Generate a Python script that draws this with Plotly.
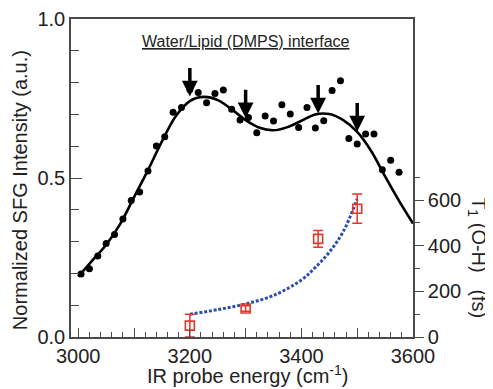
import plotly.graph_objects as go

# ---- data ----
sfg_x = [3005, 3020, 3035, 3050, 3065, 3080, 3095, 3110, 3125, 3140,
         3155, 3170, 3185, 3200, 3215, 3230, 3245, 3260, 3275, 3290,
         3305, 3320, 3335, 3350, 3365, 3380, 3395, 3410, 3425, 3440,
         3455, 3470, 3485, 3500, 3515, 3530, 3545, 3560, 3575]
sfg_y = [0.198, 0.215, 0.255, 0.294, 0.322, 0.371, 0.429, 0.456, 0.522, 0.601,
         0.630, 0.707, 0.722, 0.778, 0.769, 0.737, 0.766, 0.777, 0.716, 0.682,
         0.690, 0.642, 0.695, 0.679, 0.730, 0.701, 0.659, 0.722, 0.657, 0.680,
         0.775, 0.806, 0.624, 0.607, 0.638, 0.638, 0.526, 0.556, 0.518]

fit_x = [3000, 3025, 3050, 3075, 3100, 3125, 3150, 3175, 3200, 3225,
         3250, 3275, 3300, 3325, 3350, 3375, 3400, 3425, 3450, 3475,
         3500, 3525, 3550, 3575, 3600]
fit_y = [0.190, 0.240, 0.290, 0.355, 0.440, 0.525, 0.615, 0.695, 0.742, 0.755,
         0.745, 0.716, 0.682, 0.658, 0.650, 0.660, 0.680, 0.700, 0.701, 0.682,
         0.645, 0.585, 0.505, 0.428, 0.357]

t1_x = [3200, 3300, 3430, 3500]
t1_y = [50, 125, 430, 562]
t1_err = [50, 12, 37, 64]

t1fit_x = [3200, 3250, 3300, 3350, 3400, 3425, 3450, 3475, 3500]
t1fit_y = [100, 120, 145, 182, 250, 305, 372, 462, 605]

arrow_x = [3200, 3300, 3430, 3500]
arrow_y = [0.756, 0.688, 0.703, 0.646]

x_ticks = [3000, 3100, 3200, 3300, 3400, 3500, 3600]
x_ticktext = ["3000", "", "3200", "", "3400", "", "3600"]
x_minor = [3020, 3040, 3060, 3080, 3120, 3140, 3160, 3180, 3220, 3240, 3260, 3280,
           3320, 3340, 3360, 3380, 3420, 3440, 3460, 3480, 3520, 3540, 3560, 3580]
y_ticks = [0.0, 0.5, 1.0]
y_ticktext = ["0.0", "0.5", "1.0"]
y_minor = [0.1, 0.2, 0.3, 0.4, 0.6, 0.7, 0.8, 0.9]
y2_ticks = [0, 200, 400, 600]
y2_minor = [100, 300, 500, 700]

FONT = "Arial, 'Liberation Sans', Helvetica, sans-serif"
AX = "#4a4a4a"
RED = "#e8352b"
BLUE = "#2f4fb0"
TXT = "#222222"

fig = go.Figure()

fig.add_trace(go.Scatter(x=fit_x, y=fit_y, mode="lines",
                         line=dict(color="black", width=2.6, shape="spline", smoothing=1.0),
                         showlegend=False, hoverinfo="skip"))
fig.add_trace(go.Scatter(x=sfg_x, y=sfg_y, mode="markers",
                         marker=dict(color="black", size=7),
                         showlegend=False))
fig.add_trace(go.Scatter(x=t1fit_x, y=t1fit_y, mode="lines", yaxis="y2",
                         line=dict(color=BLUE, width=3, dash="3px,1.8px", shape="spline"),
                         showlegend=False, hoverinfo="skip"))
fig.add_trace(go.Scatter(x=t1_x, y=t1_y, mode="markers", yaxis="y2",
                         marker=dict(symbol="square-open", color=RED, size=9,
                                     line=dict(width=1.6, color=RED)),
                         error_y=dict(type="data", array=t1_err, color=RED,
                                      thickness=1.5, width=5),
                         showlegend=False))

for ax_, ay_ in zip(arrow_x, arrow_y):
    fig.add_annotation(x=ax_, y=ay_, xref="x", yref="y", ax=0, ay=-30,
                       showarrow=True, arrowhead=2, arrowsize=0.9,
                       arrowwidth=3.5, arrowcolor="black", text="")

fig.add_annotation(x=0.511, y=0.928, xref="paper", yref="paper",
                   xanchor="center", yanchor="middle",
                   text="<u>Water/Lipid (DMPS) interface</u>", showarrow=False,
                   font=dict(family=FONT, size=16, color=TXT))

fig.add_annotation(x=1.19, y=0.248, xref="paper", yref="paper",
                   xanchor="center", yanchor="middle",
                   text="T<sub>1</sub> (O-H)&nbsp;&nbsp; (fs)", showarrow=False,
                   textangle=90, font=dict(family=FONT, size=20, color=TXT))

fig.add_annotation(x=-0.149, y=0.462, xref="paper", yref="paper",
                   xanchor="center", yanchor="middle",
                   text="Normalized SFG Intensity (a.u.)", showarrow=False,
                   textangle=-90, font=dict(family=FONT, size=20, color=TXT))

fig.add_annotation(x=0.515, y=-0.118, xref="paper", yref="paper",
                   xanchor="center", yanchor="middle",
                   text="IR probe energy (cm<sup>-1</sup>)", showarrow=False,
                   font=dict(family=FONT, size=20, color=TXT))

# the page body adds an 8 px offset; margins compensate so the plot area sits
# where the reference's does
fig.update_layout(
    width=493, height=389,
    margin=dict(l=63, r=88, t=11, b=60),
    plot_bgcolor="white", paper_bgcolor="white",
    font=dict(family=FONT, size=20, color=TXT),
    xaxis=dict(range=[2987, 3600], showgrid=False, zeroline=False, automargin=False,
               showline=True, linecolor=AX, linewidth=1.6, mirror=True,
               ticks="inside", ticklen=9, tickwidth=1.4, tickcolor=AX,
               tickmode="array", tickvals=x_ticks, ticktext=x_ticktext,
               minor=dict(tickmode="array", tickvals=x_minor, ticks="inside",
                          ticklen=5, tickwidth=1.2, tickcolor=AX),
               tickfont=dict(size=20)),
    yaxis=dict(range=[0, 1], showgrid=False, zeroline=False, automargin=False,
               showline=True, linecolor=AX, linewidth=1.6, mirror=True,
               ticks="inside", ticklen=11, tickwidth=1.4, tickcolor=AX,
               tickmode="array", tickvals=y_ticks, ticktext=y_ticktext,
               minor=dict(tickmode="array", tickvals=y_minor, ticks="inside",
                          ticklen=8, tickwidth=1.2, tickcolor=AX),
               tickfont=dict(size=20)),
    yaxis2=dict(range=[0, 1393], overlaying="y", side="right", showgrid=False,
                zeroline=False, showline=True, linecolor=AX, linewidth=1.6, automargin=False,
                ticks="outside", ticklen=9, tickwidth=1.4, tickcolor=AX,
                tickmode="array", tickvals=y2_ticks,
                minor=dict(tickmode="array", tickvals=y2_minor, ticks="outside",
                           ticklen=5, tickwidth=1.2, tickcolor=AX),
                tickfont=dict(size=20)),
)

fig.write_html("out.html")
